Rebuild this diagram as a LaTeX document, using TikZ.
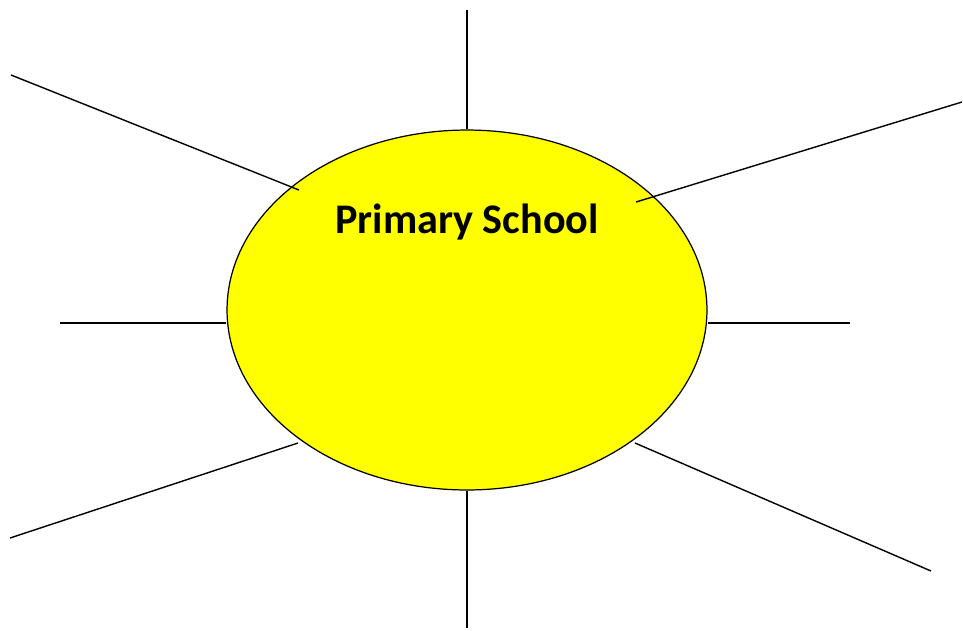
\documentclass[tikz,border=0pt]{standalone}
\usepackage{fontspec}
\setmainfont{Carlito}
\usetikzlibrary{shapes.geometric}
\definecolor{sunyellow}{RGB}{255,255,0}
\tikzset{%
  sun/.style={draw, ellipse, fill=sunyellow, line width=0.7pt,
    minimum width=9.6cm, minimum height=7.2cm, inner sep=0pt},% the middle ellipse
  ray/.style={line width=0.8pt, black},% spokes round the ellipse
  title/.style={font=\fontsize{24}{29}\selectfont\bfseries}
}

\begin{document}
\begin{tikzpicture}[x=0.02cm, y=-0.02cm]
\useasboundingbox (0,0) rectangle (963,630);
\node[sun] (school) at (467,310) {};
\node[title] (name) at (467,222) {Primary School};
% free ends of the spokes
\coordinate (n) at (467,10);
\coordinate (s) at (467,628);
\coordinate (w) at (60,323);
\coordinate (e) at (850,323);
\coordinate (nw) at (11,75);
\coordinate (ne) at (962,102);
\coordinate (sw) at (10,538);
\coordinate (se) at (931,571);
% inner ends of the slanted spokes
\coordinate (nw in) at (299,190);
\coordinate (ne in) at (636,202);
\coordinate (sw in) at (298,443);
\coordinate (se in) at (635,443);
\draw[ray] (school.north) -- (n);
\draw[ray] (school.south) -- (s);
\draw[ray] (school.west |- w) -- (w);
\draw[ray] (school.east |- e) -- (e);
\draw[ray] (nw in) -- (nw);
\draw[ray] (ne in) -- (ne);
\draw[ray] (sw in) -- (sw);
\draw[ray] (se in) -- (se);
\end{tikzpicture}
\end{document}
